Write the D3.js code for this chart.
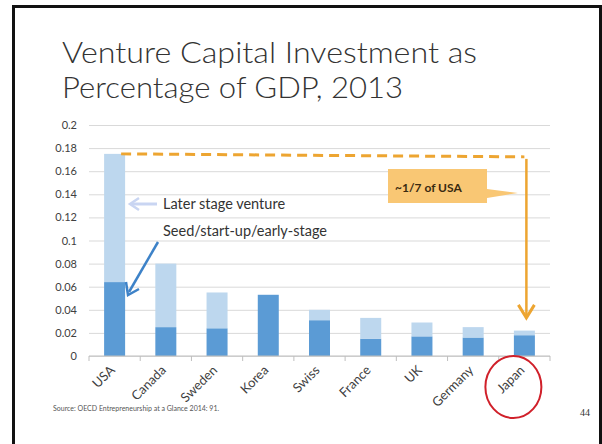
<!DOCTYPE html>
<html>
<head>
<meta charset="utf-8">
<script src="https://cdn.jsdelivr.net/npm/d3@7"></script>
<style>
  html, body { margin: 0; padding: 0; background: #fff; }
  svg { display: block; font-family: Lato, "Open Sans", sans-serif; }
</style>
</head>
<body>
<svg id="chart" width="602" height="444"></svg>
<script>
// data
const countries = ["USA", "Canada", "Sweden", "Korea", "Swiss", "France", "UK", "Germany", "Japan"];
const seedStage = [0.064, 0.025, 0.024, 0.053, 0.031, 0.015, 0.017, 0.016, 0.018];
const laterStage = [0.111, 0.055, 0.031, 0.0, 0.009, 0.018, 0.012, 0.009, 0.004];
const yTicks = [0, 0.02, 0.04, 0.06, 0.08, 0.1, 0.12, 0.14, 0.16, 0.18, 0.2];
const titleLines = ["Venture Capital Investment as", "Percentage of GDP, 2013"];

const width = 602, height = 444;
const marginTop = 125, marginBottom = 88, marginLeft = 89, marginRight = 52;

const svg = d3.select("#chart");

// slide frame
svg.append("path")
  .attr("d", `M13.5,${height + 5} V6.5 H600.5 V${height + 5}`)
  .attr("fill", "none")
  .attr("stroke", "#111")
  .attr("stroke-width", 3);

// title
svg.append("g")
  .selectAll("text")
  .data(titleLines)
  .join("text")
  .attr("x", 62)
  .attr("y", (d, i) => 63 + i * 35)
  .attr("font-size", 30)
  .attr("font-weight", 300)
  .attr("fill", "#333")
  .attr("textLength", (d, i) => (i === 0 ? 415 : 341))
  .attr("lengthAdjust", "spacingAndGlyphs")
  .text((d) => d);

const table = countries.map((c, i) => ({ country: c, seed: seedStage[i], later: laterStage[i] }));
const series = d3.stack().keys(["seed", "later"])(table);

const x = d3.scaleBand()
  .domain(countries)
  .range([marginLeft, width - marginRight])
  .paddingInner(0.59)
  .paddingOuter(0.295);
const y = d3.scaleLinear().domain([0, 0.2]).range([height - marginBottom, marginTop]);

// gridlines + y labels
const yAxis = svg.append("g")
  .attr("transform", `translate(${marginLeft},0)`)
  .call(d3.axisLeft(y).tickValues(yTicks).tickFormat((d) => String(+d.toFixed(2))).tickSize(0).tickPadding(12))
  .call((g) => g.select(".domain").remove());
yAxis.selectAll(".tick line").clone()
  .attr("x2", width - marginLeft - marginRight)
  .attr("stroke", "#d9d9d9");
yAxis.selectAll(".tick text")
  .attr("font-family", "Lato, sans-serif")
  .attr("font-size", 11)
  .attr("fill", "#404040");

// bars
const colors = { seed: "#5b9bd5", later: "#bdd7ee" };
svg.append("g")
  .selectAll("g")
  .data(series)
  .join("g")
  .attr("fill", (d) => colors[d.key])
  .selectAll("rect")
  .data((d) => d)
  .join("rect")
  .attr("x", (d) => x(d.data.country))
  .attr("y", (d) => y(d[1]))
  .attr("height", (d) => y(d[0]) - y(d[1]))
  .attr("width", x.bandwidth());

// x axis with ticks at category boundaries
const xAxisG = svg.append("g").attr("transform", `translate(0,${y(0)})`);
xAxisG.append("line")
  .attr("x1", marginLeft).attr("x2", width - marginRight)
  .attr("stroke", "#bfbfbf");
xAxisG.selectAll(".bound")
  .data(d3.range(countries.length + 1))
  .join("line")
  .attr("x1", (i) => marginLeft + i * x.step())
  .attr("x2", (i) => marginLeft + i * x.step())
  .attr("y2", 5)
  .attr("stroke", "#bfbfbf");
xAxisG.selectAll(".lab")
  .data(countries)
  .join("text")
  .attr("transform", (d) => `translate(${x(d) + x.bandwidth() / 2 + 1},15) rotate(-45)`)
  .attr("text-anchor", "end")
  .attr("font-size", 13)
  .attr("fill", "#404040")
  .text((d) => d);

// annotations
const orange = "#eda531";
const usaTop = y(seedStage[0] + laterStage[0]);
const jpX = x("Japan") + x.bandwidth() / 2 + 2;
const arrowTip = y(0.033);
svg.append("line")
  .attr("x1", x("USA") + x.bandwidth() - 4).attr("y1", usaTop)
  .attr("x2", jpX - 2).attr("y2", usaTop + 3)
  .attr("stroke", orange).attr("stroke-width", 3)
  .attr("stroke-dasharray", "10,6");
svg.append("line")
  .attr("x1", jpX).attr("y1", usaTop + 5)
  .attr("x2", jpX).attr("y2", arrowTip - 2)
  .attr("stroke", orange).attr("stroke-width", 2.5);
svg.append("path")
  .attr("d", `M${jpX - 8},${arrowTip - 13} L${jpX},${arrowTip} L${jpX + 8},${arrowTip - 13}`)
  .attr("fill", "none").attr("stroke", orange).attr("stroke-width", 3);

// callout
svg.append("path")
  .attr("d", "M388,169 H487 V189 L518,193 L487,198 V203 H388 Z")
  .attr("fill", "#f9c774");
svg.append("text")
  .attr("x", 395).attr("y", 192)
  .attr("font-size", 12).attr("font-weight", 700)
  .attr("fill", "#3a2a10")
  .text("~1/7 of USA");

// legend-ish labels
svg.append("text")
  .attr("x", 163).attr("y", 209)
  .attr("font-size", 14.5).attr("fill", "#333")
  .text("Later stage venture");
svg.append("text")
  .attr("x", 163).attr("y", 236)
  .attr("font-size", 14.5).attr("fill", "#333")
  .text("Seed/start-up/early-stage");

// pale arrow to later-stage segment
svg.append("line")
  .attr("x1", 157).attr("y1", 204).attr("x2", 132).attr("y2", 204)
  .attr("stroke", "#c9d5f2").attr("stroke-width", 3);
svg.append("path")
  .attr("d", "M139,198 L130,204 L139,210")
  .attr("fill", "none").attr("stroke", "#c9d5f2").attr("stroke-width", 2.5);

// blue arrow to seed segment
svg.append("line")
  .attr("x1", 158).attr("y1", 242).attr("x2", 129).attr("y2", 292)
  .attr("stroke", "#3d82c8").attr("stroke-width", 2.5);
svg.append("path")
  .attr("d", "M126,282 L128,295 L139,289")
  .attr("fill", "none").attr("stroke", "#3d82c8").attr("stroke-width", 2.5);

// red circle around Japan
svg.append("ellipse")
  .attr("cx", x("Japan") + x.bandwidth() / 2 - 11).attr("cy", y(0) + 31)
  .attr("rx", 28).attr("ry", 31)
  .attr("fill", "none").attr("stroke", "#d0202a").attr("stroke-width", 2);

// footer
svg.append("text")
  .attr("x", 53).attr("y", 411)
  .attr("font-size", 7).attr("fill", "#555")
  .text("Source: OECD Entrepreneurship at a Glance 2014: 91.");
svg.append("text")
  .attr("x", 580).attr("y", 416)
  .attr("font-family", "'Liberation Serif', serif")
  .attr("font-size", 10).attr("fill", "#333")
  .text("44");
</script>
</body>
</html>
